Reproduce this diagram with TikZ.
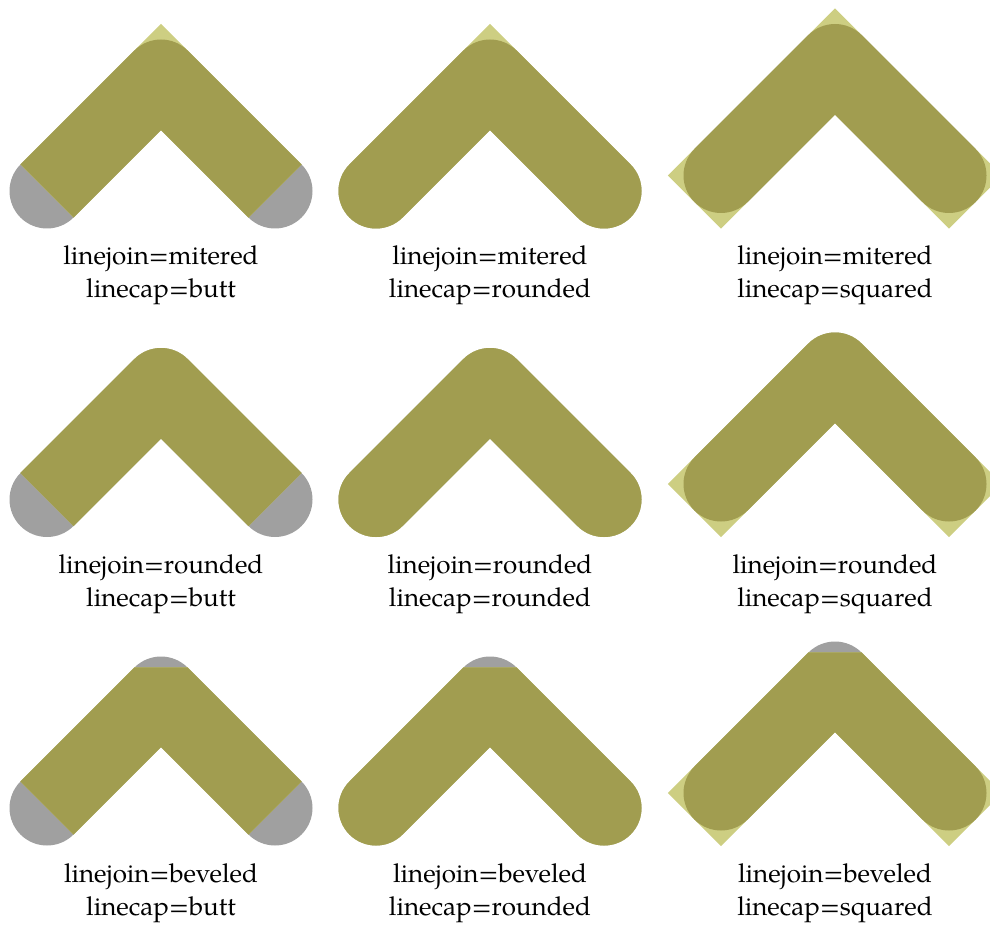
\documentclass[tikz,border=0pt]{standalone}
\usepackage{fontspec}
\setmainfont{TeX Gyre Pagella}
\definecolor{cOlive}{RGB}{161,157,80}
\definecolor{cLight}{RGB}{205,206,130}
\definecolor{cGray}{RGB}{160,160,160}
\tikzset{
  refstroke/.style={draw=cGray,line join=round,line cap=round},
  lbl/.style={anchor=base,inner sep=0pt,font=\fontsize{26}{33}\selectfont}
}
\newcommand\joincell[6]{%
  \draw[refstroke] ({#1-114},{#2+114}) -- (#1,#2) -- ({#1+114},{#2+114});
  \draw[draw=cLight,line join=#3,line cap=#4] ({#1-114},{#2+114}) -- (#1,#2) -- ({#1+114},{#2+114});
  \draw[draw=cOlive,line join=#5,line cap=#6] ({#1-114},{#2+114}) -- (#1,#2) -- ({#1+114},{#2+114});
}
\begin{document}
\begin{tikzpicture}[x=1pt,y=-1pt,line width=75pt]
\useasboundingbox (0,0) rectangle (990,925);
% row 1
\joincell{161}{77}{miter}{butt}{round}{butt}
\joincell{490}{77}{miter}{round}{round}{round}
\joincell{835}{61.5}{miter}{rect}{round}{round}
% row 2
\joincell{161}{385.5}{round}{butt}{round}{butt}
\joincell{490}{385.5}{round}{round}{round}{round}
\joincell{835}{370}{round}{rect}{round}{round}
% row 3
\joincell{161}{694}{bevel}{butt}{bevel}{butt}
\joincell{490}{694}{bevel}{round}{bevel}{round}
\joincell{835}{679}{bevel}{rect}{bevel}{round}
% labels
\node[lbl] (a1) at (161,265) {linejoin=mitered};
\node[lbl] (b1) at (161,298) {linecap=butt};
\node[lbl] (a2) at (490,265) {linejoin=mitered};
\node[lbl] (b2) at (490,298) {linecap=rounded};
\node[lbl] (a3) at (835,265) {linejoin=mitered};
\node[lbl] (b3) at (835,298) {linecap=squared};
\node[lbl] (a4) at (161,573.5) {linejoin=rounded};
\node[lbl] (b4) at (161,606.5) {linecap=butt};
\node[lbl] (a5) at (490,573.5) {linejoin=rounded};
\node[lbl] (b5) at (490,606.5) {linecap=rounded};
\node[lbl] (a6) at (835,573.5) {linejoin=rounded};
\node[lbl] (b6) at (835,606.5) {linecap=squared};
\node[lbl] (a7) at (161,882) {linejoin=beveled};
\node[lbl] (b7) at (161,915) {linecap=butt};
\node[lbl] (a8) at (490,882) {linejoin=beveled};
\node[lbl] (b8) at (490,915) {linecap=rounded};
\node[lbl] (a9) at (835,882) {linejoin=beveled};
\node[lbl] (b9) at (835,915) {linecap=squared};
\end{tikzpicture}
\end{document}
